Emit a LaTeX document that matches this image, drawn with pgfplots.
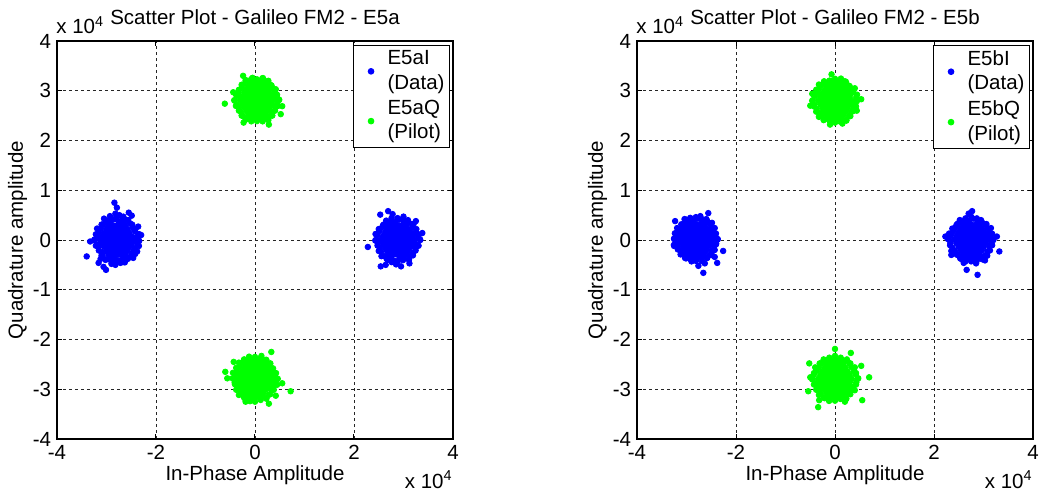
\documentclass[border=0pt]{standalone}
\usepackage{fontspec}
\setmainfont{Liberation Sans}
\usepackage{pgfplots}
\pgfplotsset{compat=1.18}
\newcommand\myfont{\fontsize{10.25}{12.25}\selectfont}
\pgfplotsset{
  galaxis/.style={
    scale only axis, width=198pt, height=199pt,
    clip mode=individual,
    xmin=-40000, xmax=40000, ymin=-40000, ymax=40000,
    xtick={-40000,-20000,0,20000,40000},
    ytick={-40000,-30000,-20000,-10000,0,10000,20000,30000,40000},
    xticklabels={-4,-2,0,2,4},
    yticklabels={-4,-3,-2,-1,0,1,2,3,4},
    scaled ticks=false,
    tick label style={font=\myfont, inner sep=2.8pt},
    label style={font=\myfont},
    title style={font=\myfont, at={(axis description cs:0.5,1)}, anchor=base, yshift=2.15pt},
    xlabel style={at={(axis description cs:0.5,0)}, anchor=base, yshift=-20.85pt},
    ylabel style={at={(axis description cs:-0.0859,0.5)}, anchor=base},
    tick align=inside, major tick length=2.5pt,
    tick style={black, line width=0.5pt},
    axis line style={black, line width=0.8pt},
    grid=major,
    grid style={black!85, line width=0.45pt, dash pattern=on 1.6pt off 1.4pt},
    xlabel={In-Phase Amplitude}, ylabel={Quadrature amplitude},
    legend style={at={(1,1)}, anchor=north east, xshift=-1.5pt, yshift=-2pt,
      draw=black, line width=0.5pt, font=\myfont, inner xsep=0.5pt, inner ysep=0.5pt,
      row sep=0pt, column sep=1pt,
      cells={anchor=west, align=left, inner xsep=1.5pt, inner ysep=0.3pt}},
  },
  scat/.style={only marks, mark=*, mark size=1.4pt,
    legend image code/.code={\path (0pt,0pt) (13pt,0pt); \draw[##1] plot coordinates {(8pt,0pt)};}},
}
\begin{document}
\myfont
\begin{tikzpicture}
\useasboundingbox (-28.5pt,-27.5pt) rectangle (491.5pt,219.5pt);
% ---------------- Left: E5a ----------------
\begin{axis}[galaxis, at={(0pt,0pt)}, anchor=south west,
  title={Scatter Plot - Galileo FM2 - E5a}]
\addplot[scat, blue] coordinates {
(-32400,100) (-31300,0) (-30450,0) (-29600,0) (-28750,0) (-27900,0) (-27050,0) (-26200,0) (-25350,0) (-24500,0) (-23400,-200)
(-31900,800) (-30875,740) (-30025,740) (-29175,740) (-28325,740) (-27475,740) (-26625,740) (-25775,740) (-24925,740) (-23900,600)
(-32000,-900) (-30875,-740) (-30025,-740) (-29175,-740) (-28325,-740) (-27475,-740) (-26625,-740) (-25775,-740) (-24925,-740) (-23800,-700)
(-31500,1600) (-30450,1480) (-29600,1480) (-28750,1480) (-27900,1480) (-27050,1480) (-26200,1480) (-25350,1480) (-24200,1700)
(-31600,-1300) (-30450,-1480) (-29600,-1480) (-28750,-1480) (-27900,-1480) (-27050,-1480) (-26200,-1480) (-25350,-1480) (-24300,-1600)
(-31100,2400) (-30025,2220) (-29175,2220) (-28325,2220) (-27475,2220) (-26625,2220) (-25775,2220) (-24700,2500)
(-31000,-2500) (-30025,-2220) (-29175,-2220) (-28325,-2220) (-27475,-2220) (-26625,-2220) (-25775,-2220) (-24600,-2300)
(-30600,3200) (-29600,2960) (-28750,2960) (-27900,2960) (-27050,2960) (-26200,2960) (-25200,3300)
(-30800,-3100) (-29600,-2960) (-28750,-2960) (-27900,-2960) (-27050,-2960) (-26200,-2960) (-25000,-3200)
(-29900,3900) (-29175,3700) (-28400,4200) (-27475,3700) (-26625,3700) (-26000,4000)
(-30200,-3900) (-29175,-3700) (-28325,-3700) (-27500,-4100) (-26625,-3700) (-25600,-3600)
(-23500,0) (-23450,1200) (-24250,2100) (-24800,3100) (-25600,4000) (-26750,4250) (-27900,4600) (-29050,4250)
(-30000,3650) (-31000,3100) (-31900,2300) (-32150,1150) (-32500,0) (-32150,-1150) (-31550,-2100) (-31000,-3100)
(-30200,-4000) (-29050,-4250) (-27900,-4200) (-26700,-4450) (-25700,-3800) (-24950,-2950) (-24100,-2200) (-23450,-1200)
(-28400,7500) (-27900,6500) (-25500,5500) (-24900,4900) (-23000,1000) (-23600,2700) (-34000,-3300) (-33300,-300)
(-31600,-4600) (-30600,-5400) (-30100,-6000) (-27200,-4600) (-24200,-2800) (-23800,-2300) (-24600,-3600)
(-28200,5300) (-27400,5000) (-29300,4800) (-26600,4700) (-30500,4300) (-29000,-4800) (-28200,-5000) (-26300,-4500) (-31200,-3800)
(24300,-100) (25400,0) (26250,0) (27100,0) (27950,0) (28800,0) (29650,0) (30500,0) (31350,0) (32200,0) (33300,200)
(24700,900) (25825,740) (26675,740) (27525,740) (28375,740) (29225,740) (30075,740) (30925,740) (31775,740) (32900,600)
(24800,-600) (25825,-740) (26675,-740) (27525,-740) (28375,-740) (29225,-740) (30075,-740) (30925,-740) (31775,-740) (32800,-900)
(25100,1700) (26250,1480) (27100,1480) (27950,1480) (28800,1480) (29650,1480) (30500,1480) (31350,1480) (32400,1300)
(25200,-1600) (26250,-1480) (27100,-1480) (27950,-1480) (28800,-1480) (29650,-1480) (30500,-1480) (31350,-1480) (32500,-1500)
(25700,2500) (26675,2220) (27525,2220) (28375,2220) (29225,2220) (30075,2220) (30925,2220) (31900,2400)
(25500,-2300) (26675,-2220) (27525,-2220) (28375,-2220) (29225,-2220) (30075,-2220) (30925,-2220) (32000,-2500)
(26000,3100) (27100,2960) (27950,2960) (28800,2960) (29650,2960) (30500,2960) (31600,3200)
(26100,-3200) (27100,-2960) (27950,-2960) (28800,-2960) (29650,-2960) (30500,-2960) (31500,-3100)
(26500,3900) (27525,3700) (28375,3700) (29100,4100) (30075,3700) (30900,4000)
(26800,-4000) (27525,-3700) (28300,-4200) (29225,-3700) (30075,-3700) (31100,-3800)
(33400,0) (33050,1150) (32600,2200) (32050,3250) (30900,3650) (29950,4250) (28800,4400) (27600,4450)
(26600,3800) (25850,2950) (25000,2200) (24350,1200) (24400,0) (24750,-1100) (25000,-2200) (25550,-3250)
(26600,-3800) (27600,-4450) (28800,-4400) (29900,-4050) (31100,-4000) (31900,-3100) (32450,-2100) (33050,-1150)
(26900,5800) (25300,5100) (22800,-1400) (25400,-5300) (29500,-5300) (26400,-5000) (33800,1400) (32500,3800)
(27800,5200) (31200,-4700) (28500,-4900) (30000,4700)
};
\addlegendentry{E5aI\\(Data)}
\addplot[scat, green] coordinates {
(-4100,28000) (-3000,28100) (-2150,28100) (-1300,28100) (-450,28100) (400,28100) (1250,28100) (2100,28100) (2950,28100) (3800,28100) (4900,28200)
(-3600,29000) (-2575,28840) (-1725,28840) (-875,28840) (-25,28840) (825,28840) (1675,28840) (2525,28840) (3375,28840) (4400,28900)
(-3700,27200) (-2575,27360) (-1725,27360) (-875,27360) (-25,27360) (825,27360) (1675,27360) (2525,27360) (3375,27360) (4500,27300)
(-3300,29700) (-2150,29580) (-1300,29580) (-450,29580) (400,29580) (1250,29580) (2100,29580) (2950,29580) (4000,29500)
(-3200,26500) (-2150,26620) (-1300,26620) (-450,26620) (400,26620) (1250,26620) (2100,26620) (2950,26620) (4100,26700)
(-2700,30500) (-1725,30320) (-875,30320) (-25,30320) (825,30320) (1675,30320) (2525,30320) (3600,30400)
(-2800,25700) (-1725,25880) (-875,25880) (-25,25880) (825,25880) (1675,25880) (2525,25880) (3500,25800)
(-2300,31300) (-1300,31060) (-450,31060) (400,31060) (1250,31060) (2100,31060) (3100,31200)
(-2400,24900) (-1300,25140) (-450,25140) (400,25140) (1250,25140) (2100,25140) (3200,25000)
(-1800,32100) (-875,31800) (-25,31800) (825,31800) (1675,31800) (2700,32000)
(-1900,24200) (-875,24400) (-25,24400) (825,24400) (1675,24400) (2600,24300)
(4800,28100) (4450,29200) (4200,30300) (3350,31050) (2600,31900) (1600,32550) (400,32300) (-750,32350)
(-1900,32100) (-2700,31200) (-3250,30200) (-3850,29250) (-4200,28100) (-3850,26950) (-3250,26000) (-2700,25000)
(-1700,24450) (-750,23850) (400,23900) (1550,23850) (2700,24100) (3500,25000) (4050,26000) (4650,26950)
(-6100,27400) (-2400,33000) (5200,25300) (5500,26900) (2800,23200) (-2300,23600) (1500,32500) (-4400,29700) (-500,32600)
(-4500,-27800) (-3400,-27900) (-2550,-27900) (-1700,-27900) (-850,-27900) (0,-27900) (850,-27900) (1700,-27900) (2550,-27900) (3400,-27900) (4400,-28000)
(-4000,-27000) (-2975,-27160) (-2125,-27160) (-1275,-27160) (-425,-27160) (425,-27160) (1275,-27160) (2125,-27160) (2975,-27160) (4000,-27300)
(-4100,-28700) (-2975,-28640) (-2125,-28640) (-1275,-28640) (-425,-28640) (425,-28640) (1275,-28640) (2125,-28640) (2975,-28640) (4100,-28500)
(-3600,-26300) (-2550,-26420) (-1700,-26420) (-850,-26420) (0,-26420) (850,-26420) (1700,-26420) (2550,-26420) (3500,-26500)
(-3500,-29500) (-2550,-29380) (-1700,-29380) (-850,-29380) (0,-29380) (850,-29380) (1700,-29380) (2550,-29380) (3700,-29300)
(-3100,-25500) (-2125,-25680) (-1275,-25680) (-425,-25680) (425,-25680) (1275,-25680) (2125,-25680) (3000,-25600)
(-3000,-30300) (-2125,-30120) (-1275,-30120) (-425,-30120) (425,-30120) (1275,-30120) (2125,-30120) (3200,-30000)
(-2700,-24800) (-1700,-24940) (-850,-24940) (0,-24940) (850,-24940) (1700,-24940) (2700,-24800)
(-2600,-31000) (-1700,-30860) (-850,-30860) (0,-30860) (850,-30860) (1700,-30860) (2800,-31100)
(-2200,-24000) (-1275,-24200) (-425,-24200) (425,-24200) (1275,-24200) (2300,-24100)
(-2000,-31900) (-1275,-31600) (-425,-31600) (425,-31600) (1275,-31600) (2300,-31800)
(4600,-27900) (4250,-26750) (3650,-25800) (3100,-24800) (2200,-24100) (1100,-23850) (0,-23500) (-1200,-23450)
(-2200,-24100) (-3250,-24650) (-3800,-25700) (-4450,-26700) (-4400,-27900) (-4050,-29000) (-3800,-30100) (-3250,-31150)
(-2200,-31700) (-1100,-31950) (0,-32500) (1150,-32150) (2300,-31900) (3100,-31000) (3800,-30100) (4450,-29100)
(7200,-30400) (3300,-22500) (1300,-23300) (-6000,-26500) (-5600,-27800) (5500,-28800) (-1900,-32500) (2800,-32900)
(-4300,-24500) (-1000,-32400) (4200,-31300)
};
\addlegendentry{E5aQ\\(Pilot)}
\node[anchor=base west, inner sep=0pt, xshift=-0.5pt, yshift=3.85pt] at (rel axis cs:0,1) {x 10\textsuperscript{4}};
\node[anchor=base east, inner sep=0pt, yshift=-24.5pt] at (rel axis cs:1,0) {x 10\textsuperscript{4}};
\end{axis}
% ---------------- Right: E5b ----------------
\begin{axis}[galaxis, at={(290pt,0pt)}, anchor=south west,
  title={Scatter Plot - Galileo FM2 - E5b}]
\addplot[scat, blue] coordinates {
(-32500,300) (-31500,200) (-30650,200) (-29800,200) (-28950,200) (-28100,200) (-27250,200) (-26400,200) (-25550,200) (-24700,200) (-23700,100)
(-32000,1000) (-31075,940) (-30225,940) (-29375,940) (-28525,940) (-27675,940) (-26825,940) (-25975,940) (-25125,940) (-24200,900)
(-32200,-500) (-31075,-540) (-30225,-540) (-29375,-540) (-28525,-540) (-27675,-540) (-26825,-540) (-25975,-540) (-25125,-540) (-24000,-700)
(-31600,1800) (-30650,1680) (-29800,1680) (-28950,1680) (-28100,1680) (-27250,1680) (-26400,1680) (-25550,1680) (-24800,1600)
(-31700,-1200) (-30650,-1280) (-29800,-1280) (-28950,-1280) (-28100,-1280) (-27250,-1280) (-26400,-1280) (-25550,-1280) (-24500,-1400)
(-31000,2600) (-30225,2420) (-29375,2420) (-28525,2420) (-27675,2420) (-26825,2420) (-25975,2420) (-25000,2500)
(-31200,-2100) (-30225,-2020) (-29375,-2020) (-28525,-2020) (-27675,-2020) (-26825,-2020) (-25975,-2020) (-24900,-2200)
(-30500,3300) (-29800,3160) (-28950,3160) (-28100,3160) (-27250,3160) (-26400,3160) (-25400,3400)
(-30700,-2900) (-29800,-2760) (-28950,-2760) (-28100,-2760) (-27250,-2760) (-26400,-2760) (-25300,-2900)
(-30100,4100) (-29375,3900) (-28525,3900) (-27700,4300) (-26825,3900) (-26000,4200)
(-30100,-3700) (-29375,-3500) (-28525,-3500) (-27675,-3500) (-26825,-3500) (-25800,-3600)
(-23700,200) (-24050,1300) (-24300,2400) (-24850,3450) (-25900,4000) (-27000,4250) (-28100,4600) (-29250,4450)
(-30400,4200) (-31050,3150) (-31900,2400) (-32350,1350) (-32500,200) (-32550,-1000) (-31750,-1900) (-31200,-2900)
(-30300,-3600) (-29200,-3850) (-28100,-4200) (-26900,-4250) (-25900,-3600) (-24850,-3050) (-24300,-2000) (-24050,-900)
(-26600,-6600) (-32300,3800) (-22600,-2200) (-23800,-4600) (-32500,-1200) (-25600,5400) (-27200,4800) (-27600,-5200)
(-24300,-3400) (-29000,-4300) (-26300,-4700)
(22800,200) (24100,100) (24950,100) (25800,100) (26650,100) (27500,100) (28350,100) (29200,100) (30050,100) (30900,100) (32000,0)
(23400,1000) (24525,840) (25375,840) (26225,840) (27075,840) (27925,840) (28775,840) (29625,840) (30475,840) (31500,900)
(23300,-600) (24525,-640) (25375,-640) (26225,-640) (27075,-640) (27925,-640) (28775,-640) (29625,-640) (30475,-640) (31600,-700)
(23900,1700) (24950,1580) (25800,1580) (26650,1580) (27500,1580) (28350,1580) (29200,1580) (30050,1580) (31100,1500)
(23700,-1500) (24950,-1380) (25800,-1380) (26650,-1380) (27500,-1380) (28350,-1380) (29200,-1380) (30050,-1380) (31200,-1300)
(24300,2500) (25375,2320) (26225,2320) (27075,2320) (27925,2320) (28775,2320) (29625,2320) (30700,2400)
(24200,-2200) (25375,-2120) (26225,-2120) (27075,-2120) (27925,-2120) (28775,-2120) (29625,-2120) (30800,-2300)
(24800,3300) (25800,3060) (26650,3060) (27500,3060) (28350,3060) (29200,3060) (30200,3200)
(24700,-3000) (25800,-2860) (26650,-2860) (27500,-2860) (28350,-2860) (29200,-2860) (30300,-3100)
(25200,4000) (26225,3800) (27075,3800) (27900,4300) (28775,3800) (29500,4000)
(25500,-3800) (26225,-3600) (27075,-3600) (27925,-3600) (28775,-3600) (29800,-3900)
(31700,100) (31750,1250) (31500,2400) (30600,3200) (29600,3750) (28650,4350) (27500,4700) (26350,4350)
(25300,3900) (24550,3050) (23700,2300) (23050,1300) (23100,100) (23250,-1050) (23500,-2200) (24550,-2850)
(25300,-3700) (26300,-4350) (27500,-4300) (28650,-4150) (29600,-3550) (30750,-3150) (31300,-2100) (31750,-1050)
(28800,-7000) (33200,-2300) (27700,5800) (23500,-3000) (26600,-6000) (30300,-4100) (32700,700) (27000,5300)
(22300,700) (28500,-4700) (26000,-4600)
};
\addlegendentry{E5bI\\(Data)}
\addplot[scat, green] coordinates {
(-4500,28100) (-3400,28000) (-2550,28000) (-1700,28000) (-850,28000) (0,28000) (850,28000) (1700,28000) (2550,28000) (3400,28000) (4400,27900)
(-4100,28900) (-2975,28740) (-2125,28740) (-1275,28740) (-425,28740) (425,28740) (1275,28740) (2125,28740) (2975,28740) (4300,28700)
(-4200,27200) (-2975,27260) (-2125,27260) (-1275,27260) (-425,27260) (425,27260) (1275,27260) (2125,27260) (2975,27260) (4000,27100)
(-3600,29600) (-2550,29480) (-1700,29480) (-850,29480) (0,29480) (850,29480) (1700,29480) (2550,29480) (3500,29600)
(-3700,26400) (-2550,26520) (-1700,26520) (-850,26520) (0,26520) (850,26520) (1700,26520) (2550,26520) (3700,26500)
(-3200,30400) (-2125,30220) (-1275,30220) (-425,30220) (425,30220) (1275,30220) (2125,30220) (3000,30300)
(-3100,25600) (-2125,25780) (-1275,25780) (-425,25780) (425,25780) (1275,25780) (2125,25780) (3200,25700)
(-2700,31200) (-1700,30960) (-850,30960) (0,30960) (850,30960) (1700,30960) (2600,31100)
(-2700,24900) (-1700,25040) (-850,25040) (0,25040) (850,25040) (1700,25040) (2800,24900)
(-2200,31900) (-1275,31700) (-425,31700) (425,31700) (1275,31700) (2000,31900)
(-2300,24100) (-1275,24300) (-425,24300) (425,24300) (1275,24300) (2300,24100)
(4400,28000) (4450,29200) (3800,30200) (2950,30950) (2200,31800) (1200,32450) (0,32400) (-1100,32050)
(-2200,31800) (-3250,31250) (-3800,30200) (-4250,29150) (-4600,28000) (-4250,26850) (-3800,25800) (-3250,24750)
(-2200,24200) (-1100,23950) (0,23600) (1150,23750) (2300,24000) (3100,24900) (3650,25900) (4250,26850)
(-700,33300) (-5000,27000) (5300,28300) (4400,26000) (-1000,23200) (1500,23400) (-4600,29400) (4000,30500)
(-4600,-28000) (-3400,-27900) (-2550,-27900) (-1700,-27900) (-850,-27900) (0,-27900) (850,-27900) (1700,-27900) (2550,-27900) (3400,-27900) (4700,-27800)
(-4300,-27100) (-2975,-27160) (-2125,-27160) (-1275,-27160) (-425,-27160) (425,-27160) (1275,-27160) (2125,-27160) (2975,-27160) (4200,-27000)
(-4000,-28800) (-2975,-28640) (-2125,-28640) (-1275,-28640) (-425,-28640) (425,-28640) (1275,-28640) (2125,-28640) (2975,-28640) (4300,-28600)
(-3700,-26300) (-2550,-26420) (-1700,-26420) (-850,-26420) (0,-26420) (850,-26420) (1700,-26420) (2550,-26420) (3800,-26400)
(-3600,-29400) (-2550,-29380) (-1700,-29380) (-850,-29380) (0,-29380) (850,-29380) (1700,-29380) (2550,-29380) (3600,-29500)
(-3200,-25500) (-2125,-25680) (-1275,-25680) (-425,-25680) (425,-25680) (1275,-25680) (2125,-25680) (3300,-25500)
(-3100,-30200) (-2125,-30120) (-1275,-30120) (-425,-30120) (425,-30120) (1275,-30120) (2125,-30120) (3000,-30300)
(-2600,-24700) (-1700,-24940) (-850,-24940) (0,-24940) (850,-24940) (1700,-24940) (2900,-24800)
(-2800,-31000) (-1700,-30860) (-850,-30860) (0,-30860) (850,-30860) (1700,-30860) (2700,-31000)
(-2300,-24000) (-1275,-24200) (-425,-24200) (425,-24200) (1275,-24200) (2400,-24000)
(-2100,-31800) (-1275,-31600) (-425,-31600) (425,-31600) (1275,-31600) (2000,-31800)
(4600,-27900) (4250,-26750) (4000,-25600) (3100,-24800) (2100,-24250) (1150,-23650) (0,-23300) (-1150,-23650)
(-2100,-24250) (-3100,-24800) (-4000,-25600) (-4250,-26750) (-4600,-27900) (-4250,-29050) (-3800,-30100) (-3250,-31150)
(-2200,-31700) (-1200,-32350) (0,-32300) (1100,-31950) (2300,-31900) (3100,-31000) (4000,-30200) (4250,-29050)
(-3400,-33600) (6900,-27600) (5500,-32200) (3200,-22700) (0,-21900) (5300,-25300) (-5400,-30400) (-5200,-24800)
(2000,-32500) (-3200,-32200) (-5000,-27600)
};
\addlegendentry{E5bQ\\(Pilot)}
\node[anchor=base west, inner sep=0pt, xshift=-0.5pt, yshift=3.85pt] at (rel axis cs:0,1) {x 10\textsuperscript{4}};
\node[anchor=base east, inner sep=0pt, yshift=-24.5pt] at (rel axis cs:1,0) {x 10\textsuperscript{4}};
\end{axis}
\end{tikzpicture}
\end{document}
